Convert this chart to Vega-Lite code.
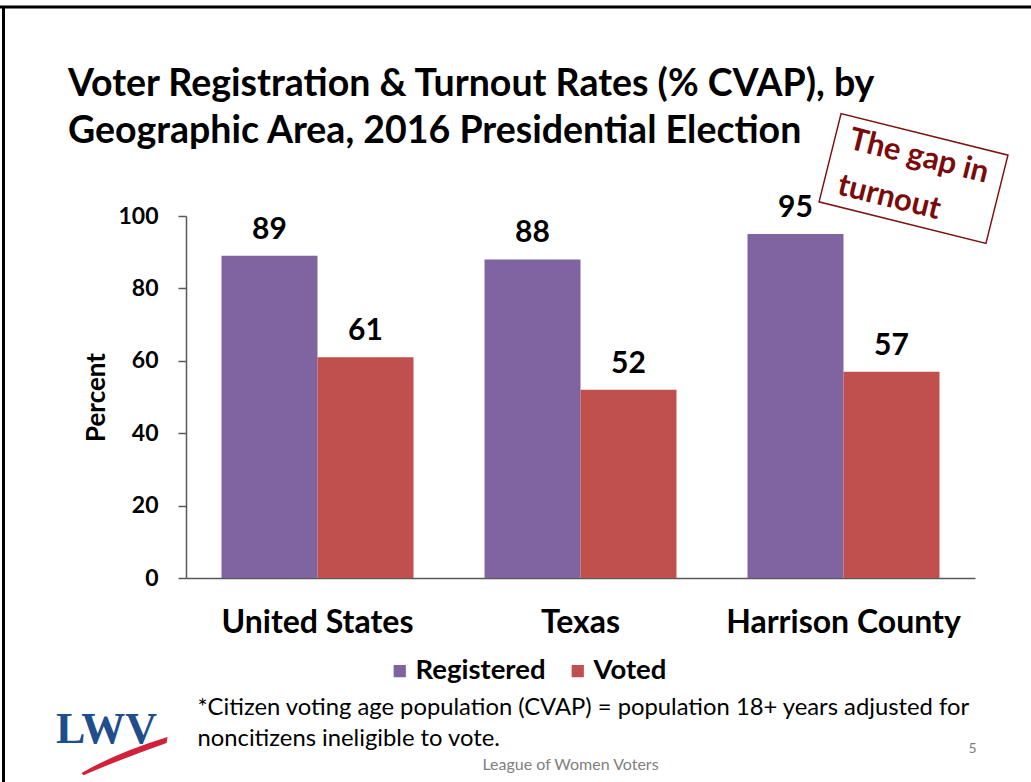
{
  "$schema": "https://vega.github.io/schema/vega-lite/v6.json",
  "width": 789,
  "height": 362,
  "autosize": {"type": "none"},
  "padding": {"left": 186, "top": 216, "right": 56, "bottom": 204},
  "background": "white",
  "config": {"view": {"stroke": null}, "font": "Lato"},
  "title": {
    "text": ["Voter Registration & Turnout Rates (% CVAP), by", "Geographic Area, 2016 Presidential Election"],
    "anchor": "start",
    "frame": "group",
    "dx": -118,
    "offset": -174.5,
    "baseline": "alphabetic",
    "lineHeight": 47,
    "fontSize": 37.5,
    "fontWeight": "bold",
    "font": "Lato",
    "color": "#000000"
  },
  "data": {
    "values": [
      {"area": "United States", "type": "Registered", "value": 89},
      {"area": "United States", "type": "Voted", "value": 61},
      {"area": "Texas", "type": "Registered", "value": 88},
      {"area": "Texas", "type": "Voted", "value": 52},
      {"area": "Harrison County", "type": "Registered", "value": 95},
      {"area": "Harrison County", "type": "Voted", "value": 57}
    ]
  },
  "layer": [
    {
      "mark": {"type": "bar"},
      "encoding": {
        "x": {
          "field": "area", "type": "nominal",
          "sort": ["United States", "Texas", "Harrison County"],
          "scale": {"paddingInner": 0.27, "paddingOuter": 0.135},
          "axis": {
            "title": null, "labelAngle": 0, "labelFont": "Lato", "labelFontSize": 32,
            "labelFontWeight": "bold", "labelColor": "#000000", "labelPadding": 29, "labelLimit": 400,
            "ticks": false, "domainColor": "#595959", "domainWidth": 1.5
          }
        },
        "xOffset": {
          "field": "type", "type": "nominal", "sort": ["Registered", "Voted"],
          "scale": {"paddingInner": 0, "paddingOuter": 0}
        },
        "y": {
          "field": "value", "type": "quantitative",
          "scale": {"domain": [0, 100]},
          "axis": {
            "title": "Percent", "titleFont": "Lato", "titleFontSize": 26, "titleFontWeight": "bold",
            "titleColor": "#000000", "titlePadding": 8,
            "labelFont": "Lato", "labelFontSize": 23, "labelFontWeight": "bold", "labelColor": "#000000",
            "labelPadding": 20, "tickSize": 8, "tickColor": "#595959", "domainColor": "#595959",
            "domainWidth": 1.5, "tickWidth": 1.5, "grid": false, "values": [0, 20, 40, 60, 80, 100]
          }
        },
        "color": {
          "field": "type", "type": "nominal",
          "scale": {"domain": ["Registered", "Voted"], "range": ["#8064A2", "#C0504D"]},
          "legend": {
            "title": null, "orient": "none", "legendX": 200, "legendY": 441, "direction": "horizontal",
            "labelFont": "Lato", "labelFontSize": 27.5, "labelFontWeight": "bold", "labelColor": "#000000",
            "symbolType": "square", "symbolSize": 150, "symbolStrokeWidth": 0, "symbolOpacity": 1,
            "columnPadding": 18, "labelOffset": 2, "labelLimit": 300
          }
        }
      }
    },
    {
      "mark": {"type": "text", "baseline": "bottom", "dy": -11, "font": "Lato", "fontSize": 30, "fontWeight": "bold", "color": "#000000"},
      "encoding": {
        "x": {"field": "area", "type": "nominal", "sort": ["United States", "Texas", "Harrison County"]},
        "xOffset": {"field": "type", "type": "nominal", "sort": ["Registered", "Voted"]},
        "y": {"field": "value", "type": "quantitative"},
        "text": {"field": "value", "type": "quantitative"}
      }
    },
    {
      "data": {"values": [{}]},
      "mark": {"type": "point", "shape": "M-1,-0.529L1,-0.529L1,0.529L-1,0.529Z", "size": 29584, "angle": 14, "filled": false, "stroke": "#7B1515", "strokeWidth": 1.5, "opacity": 1, "xOffset": 70},
      "encoding": {
        "x": {"datum": "Harrison County"},
        "y": {"datum": 110.36}
      }
    },
    {
      "data": {"values": [{}]},
      "mark": {"type": "text", "text": ["The gap in", "turnout"], "align": "left", "baseline": "alphabetic", "angle": 14, "lineHeight": 47, "dx": 4, "font": "Lato", "fontSize": 31, "fontWeight": "bold", "color": "#7B0A0A"},
      "encoding": {
        "x": {"datum": "Harrison County"},
        "y": {"datum": 118.95}
      }
    },
    {
      "data": {"values": [{}]},
      "mark": {"type": "text", "text": ["*Citizen voting age population (CVAP) = population 18+ years adjusted for", "noncitizens ineligible to vote."], "align": "left", "baseline": "alphabetic", "lineHeight": 31, "dx": -120, "font": "Lato", "fontSize": 23.8, "color": "#000000"},
      "encoding": {
        "x": {"datum": "United States"},
        "y": {"datum": -37.85}
      }
    },
    {
      "data": {"values": [{}]},
      "mark": {"type": "text", "text": "LWV", "align": "center", "baseline": "alphabetic", "dx": -211, "font": "Liberation Serif", "fontSize": 44, "fontWeight": "bold", "color": "#1F4E8C"},
      "encoding": {
        "x": {"datum": "United States"},
        "y": {"datum": -45.6}
      }
    },
    {
      "data": {"values": [{}]},
      "mark": {"type": "point", "shape": "M-1,0.42Q-0.2,-0.05 1,-0.42L0.98,-0.28Q-0.2,0.14 -0.95,0.47Z", "size": 7396, "filled": true, "fill": "#D2213A", "strokeWidth": 0, "opacity": 1, "xOffset": -193},
      "encoding": {
        "x": {"datum": "United States"},
        "y": {"datum": -48.9}
      }
    },
    {
      "data": {"values": [{}]},
      "mark": {"type": "text", "text": "League of Women Voters", "align": "center", "baseline": "middle", "dx": -10, "font": "Lato", "fontSize": 16, "color": "#808080"},
      "encoding": {
        "x": {"datum": "Texas"},
        "y": {"datum": -51.7}
      }
    },
    {
      "data": {"values": [{}]},
      "mark": {"type": "text", "text": "5", "align": "center", "baseline": "middle", "dx": 129, "font": "Lato", "fontSize": 14, "color": "#808080"},
      "encoding": {
        "x": {"datum": "Harrison County"},
        "y": {"datum": -47.2}
      }
    },
    {
      "data": {"values": [{}]},
      "mark": {"type": "rule", "color": "#000000", "strokeWidth": 3, "xOffset": -318, "x2Offset": 188},
      "encoding": {
        "x": {"datum": "United States"},
        "x2": {"datum": "Harrison County"},
        "y": {"datum": 157.73}
      }
    },
    {
      "data": {"values": [{}]},
      "mark": {"type": "rule", "color": "#000000", "strokeWidth": 3, "xOffset": -314},
      "encoding": {
        "x": {"datum": "United States"},
        "y": {"datum": 157.73},
        "y2": {"datum": -60}
      }
    }
  ]
}
